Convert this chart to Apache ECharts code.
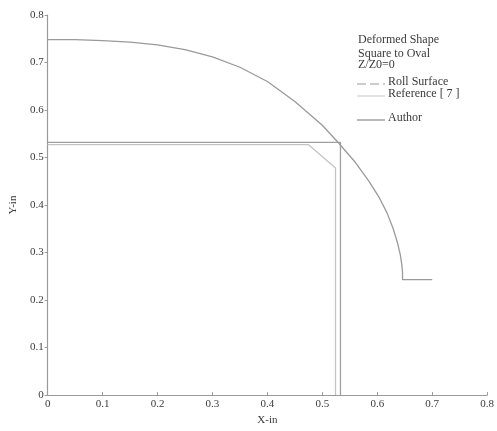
<!DOCTYPE html>
<html><head><meta charset="utf-8">
<script src="https://cdn.jsdelivr.net/npm/echarts@6/dist/echarts.min.js"></script>
<style>html,body{margin:0;padding:0;background:#fff}#c{width:497px;height:431px}</style>
</head><body><div id="c"></div>
<script>
// Author: deformed oval profile (x, y in inches)
const authorX = [0, 0.05, 0.1, 0.15, 0.2, 0.25, 0.3, 0.35, 0.4, 0.45, 0.5, 0.53, 0.56, 0.585, 0.604, 0.618, 0.629, 0.637, 0.642, 0.645, 0.646, 0.646, 0.70];
const authorY = [0.748, 0.748, 0.746, 0.743, 0.737, 0.727, 0.712, 0.69, 0.66, 0.618, 0.568, 0.53, 0.49, 0.45, 0.415, 0.383, 0.35, 0.32, 0.295, 0.272, 0.258, 0.243, 0.243];
// Roll surface (square)
const rollX = [0, 0.533, 0.533];
const rollY = [0.532, 0.532, 0];
// Reference [7] (chamfered square)
const refX = [0, 0.475, 0.524, 0.524];
const refY = [0.527, 0.527, 0.478, 0];
const xTicks = [0, 0.8, 0.1];
const yTicks = [0, 0.8, 0.1];
const titleLines = ['Deformed Shape', 'Square to Oval', 'Z/Z0=0'];
const legendNames = ['Roll Surface', 'Reference [ 7 ]', 'Author'];

const zip = (xs, ys) => xs.map((x, i) => [x, ys[i]]);
const font = 'Liberation Serif';
const txt = '#3a3a3a';
const axisCol = '#9a9a9a';

const chart = echarts.init(document.getElementById('c'));
const legendY = [83, 95, 119];
const legendStyles = [
  {stroke: '#9a9a9a', lineDash: [9, 4]},
  {stroke: '#cfcfcf', lineDash: null},
  {stroke: '#8a8a8a', lineDash: null}
];
const graphics = [];
titleLines.forEach((t, i) => {
  graphics.push({type: 'text', left: 358, top: [34, 48, 59][i],
    style: {text: t, font: '12px "' + font + '"', fill: txt}});
});
legendNames.forEach((n, i) => {
  graphics.push({type: 'line', shape: {x1: 357, y1: legendY[i] + 1, x2: 385, y2: legendY[i] + 1},
    style: Object.assign({lineWidth: 1.2}, legendStyles[i])});
  graphics.push({type: 'text', left: 388, top: legendY[i] - 7,
    style: {text: n, font: '12px "' + font + '"', fill: txt}});
});

chart.setOption({
  animation: false,
  backgroundColor: '#fff',
  grid: {left: 47, right: 5, top: 15, bottom: 32},
  xAxis: {
    type: 'value', min: xTicks[0], max: xTicks[1], interval: xTicks[2],
    name: 'X-in', nameLocation: 'middle', nameGap: 16,
    nameTextStyle: {fontFamily: font, fontSize: 11, color: txt},
    axisLine: {lineStyle: {color: axisCol, width: 1.2}},
    axisTick: {inside: true, length: 3, lineStyle: {color: axisCol}},
    axisLabel: {fontFamily: font, fontSize: 11, color: txt, margin: 4},
    splitLine: {show: false}
  },
  yAxis: {
    type: 'value', min: yTicks[0], max: yTicks[1], interval: yTicks[2],
    name: 'Y-in', nameLocation: 'middle', nameGap: 26, nameRotate: 90,
    nameTextStyle: {fontFamily: font, fontSize: 11, color: txt},
    axisLine: {show: true, lineStyle: {color: axisCol, width: 1.2}},
    axisTick: {show: true, inside: false, length: 3, lineStyle: {color: axisCol}},
    axisLabel: {fontFamily: font, fontSize: 11, color: txt, margin: 4},
    splitLine: {show: false}
  },
  series: [
    {name: legendNames[0], type: 'line', data: zip(rollX, rollY), showSymbol: false,
      lineStyle: {color: '#a0a0a0', width: 1.3}},
    {name: legendNames[1], type: 'line', data: zip(refX, refY), showSymbol: false,
      lineStyle: {color: '#c4c4c4', width: 1.3}},
    {name: legendNames[2], type: 'line', data: zip(authorX, authorY), showSymbol: false,
      lineStyle: {color: '#9a9a9a', width: 1.3}}
  ],
  graphic: graphics
});
</script></body></html>
